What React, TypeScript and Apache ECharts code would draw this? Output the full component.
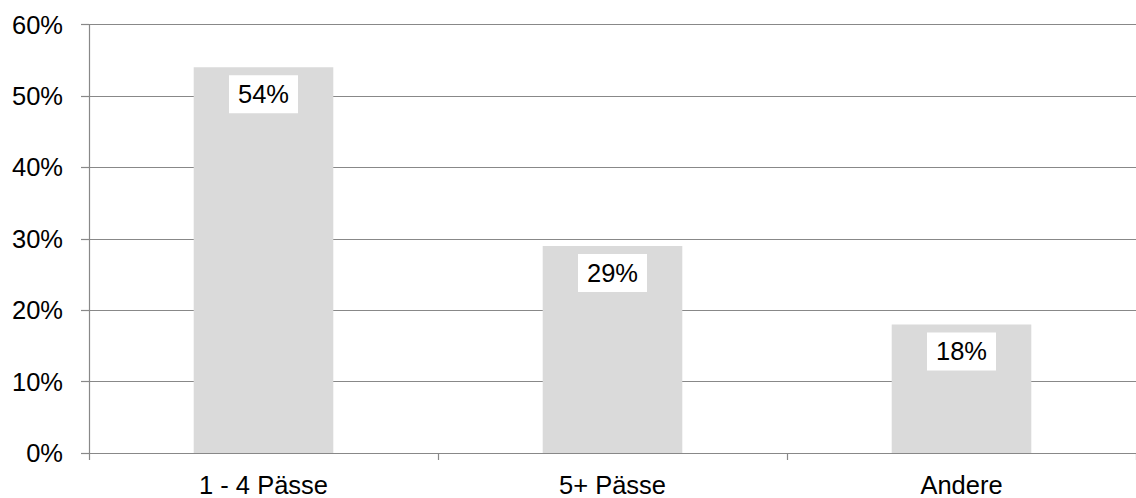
import React, { useEffect, useRef } from "react";
import * as echarts from "echarts";

const categories = ["1 - 4 Pässe", "5+ Pässe", "Andere"];
const values = [54, 29, 18];
const yTicks = [0, 10, 20, 30, 40, 50, 60];

export default function App() {
  const ref = useRef<HTMLDivElement>(null);
  useEffect(() => {
    if (!ref.current) return;
    const chart = echarts.init(ref.current, null, { renderer: "svg" });
    const font = "Arial, 'Liberation Sans', sans-serif";
    chart.setOption({
      animation: false,
      backgroundColor: "#ffffff",
      grid: { left: 89, right: -3, top: 24.5, bottom: 42, containLabel: false },
      xAxis: {
        type: "category",
        data: categories,
        axisLine: { show: true, lineStyle: { color: "#888888", width: 1.2 } },
        axisTick: { show: true, alignWithLabel: false, length: 7, lineStyle: { color: "#888888", width: 1.2 } },
        axisLabel: { color: "#000", fontSize: 25.5, fontFamily: font, margin: 19 },
        splitLine: { show: false },
      },
      yAxis: {
        type: "value",
        min: yTicks[0],
        max: yTicks[yTicks.length - 1],
        interval: 10,
        axisLine: { show: true, lineStyle: { color: "#888888", width: 1.2 } },
        axisTick: { show: true, length: 8, lineStyle: { color: "#888888", width: 1.2 } },
        axisLabel: {
          color: "#000",
          fontSize: 25.5,
          fontFamily: font,
          margin: 26,
          formatter: (v: number) => `${v}%`,
        },
        splitLine: { show: true, lineStyle: { color: "#888888", width: 1.2 } },
      },
      series: [
        {
          type: "bar",
          data: values,
          barWidth: "40%",
          itemStyle: { color: "#dadada" },
          label: {
            show: true,
            position: "insideTop",
            distance: 8,
            formatter: (p: any) => `${p.value}%`,
            color: "#000",
            fontSize: 25.5,
            fontFamily: font,
            backgroundColor: "#ffffff",
            padding: [6, 9, 6, 9],
            lineHeight: 26,
          },
        },
      ],
    });
    return () => chart.dispose();
  }, []);
  return (
    <div
      ref={ref}
      style={{ position: "absolute", left: 0, top: 0, width: 1136, height: 498 }}
    />
  );
}
